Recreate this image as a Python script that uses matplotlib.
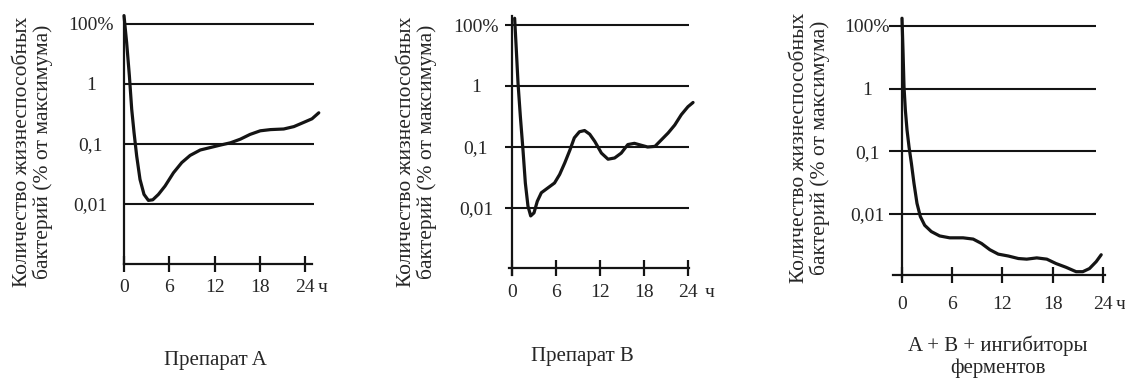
import matplotlib.pyplot as plt

plt.rcParams['font.family'] = ['Liberation Serif', 'DejaVu Serif']

## DATA
# vertical scale is drawn in equal steps: 3 = 100%, 2 = 1, 1 = 0,1, 0 = 0,01
levelTicks = [0, 1, 2, 3]
levelLabels = ["0,01", "0,1", "1", "100%"]
hourTicks = [0, 6, 12, 18, 24]
hourLabels = ["0", "6", "12", "18", "24"]

titles = ["Препарат A", "Препарат B", "A + B + ингибиторы\nферментов"]
yLabelText = "Количество жизнеспособных\nбактерий (% от максимума)"
hourUnit = "ч"

hoursA = [0, 0.35, 0.71, 1.02, 1.33, 1.68, 2.12, 2.65, 3.23, 3.81, 4.56, 5.44,
          6.55, 7.65, 8.76, 10.1, 11.4, 12.7, 14.1, 15.4, 16.7, 18.05, 19.4,
          21.15, 22.5, 23.8, 24.9, 25.8]
levelA = [3.14, 2.69, 2.14, 1.58, 1.19, 0.80, 0.41, 0.16, 0.06, 0.07, 0.16, 0.30,
          0.52, 0.69, 0.81, 0.90, 0.94, 0.98, 1.02, 1.08, 1.16, 1.22, 1.24,
          1.25, 1.29, 1.36, 1.42, 1.52]

hoursB = [0.36, 0.59, 0.82, 1.14, 1.5, 1.82, 2.18, 2.55, 3.0, 3.45, 4.0, 4.9,
          5.8, 6.5, 7.2, 7.9, 8.5, 9.2, 9.9, 10.6, 11.3, 12.2, 13.1, 14.0, 14.9,
          15.8, 16.7, 17.6, 18.5, 19.5, 20.4, 21.3, 22.2, 23.1, 24.0, 24.7]
levelB = [3.11, 2.59, 2.05, 1.5, 0.95, 0.41, 0.03, -0.13, -0.08, 0.11, 0.25, 0.33,
          0.41, 0.55, 0.74, 0.95, 1.15, 1.25, 1.27, 1.21, 1.09, 0.90, 0.80, 0.82, 0.90,
          1.04, 1.06, 1.03, 1.00, 1.01, 1.12, 1.23, 1.36, 1.53, 1.66, 1.73]

hoursC = [0, 0.12, 0.24, 0.4, 0.6, 0.84, 1.12, 1.43, 1.79, 2.19, 2.71, 3.5, 4.5,
          5.7, 7.3, 8.5, 9.5, 10.5, 11.5, 12.7, 13.9, 14.9, 16.1, 17.3, 18.4,
          19.6, 20.8, 21.6, 22.4, 23.2, 23.8]
levelC = [3.12, 2.61, 2.03, 1.66, 1.34, 1.07, 0.81, 0.49, 0.17, -0.04, -0.18, -0.28, -0.35,
          -0.38, -0.38, -0.40, -0.47, -0.57, -0.64, -0.67, -0.71, -0.72, -0.70, -0.72, -0.79,
          -0.85, -0.92, -0.92, -0.87, -0.76, -0.65]

curves = [(hoursA, levelA), (hoursB, levelB), (hoursC, levelC)]

## LAYOUT (pixels of the 1125x385 picture)
W, H = 1125, 385
# origin x, px per hour, y of level 0, px per level
frames = [(124, 7.55, 204, 60.0), (512, 7.33, 208, 61.0), (902, 8.37, 214, 62.7)]
gridSpan = [(0, 25.2), (-1.0, 24.2), (-1.5, 23.2)]
xAxisSpan = [(0, 24.9), (-0.4, 24.2), (-1.1, 24.2)]
xAxisLevel = [-1.0, -0.98, -0.97]
yAxisSpan = [(-1.0, 3.12), (-1.1, 3.15), (-1.0, 3.12)]
xLabelPad = [5, 6, 10]
yLabelPad = [24, 26, 25]
unitOffset = [17, 22, 18]
yTitlePos = [(33, 152), (417, 152), (810, 148)]
titlePos = [(215, 360), (582, 357), (998, 357)]

INK = "#141414"
TEXT = "#262626"
XLO, XHI, YLO, YHI = -2.5, 27, -1.4, 3.35

fig = plt.figure(figsize=(W / 100, H / 100), dpi=100)

for i, (hours, level) in enumerate(curves):
    ox, sx, oy, sy = frames[i]
    leftPx = ox + XLO * sx
    topPx = oy - YHI * sy
    botPx = oy - YLO * sy
    ax = fig.add_axes([leftPx / W, 1 - botPx / H, (XHI - XLO) * sx / W, (botPx - topPx) / H])
    ax.set_xlim(XLO, XHI)
    ax.set_ylim(YLO, YHI)
    ax.patch.set_visible(False)

    ax.hlines(levelTicks, gridSpan[i][0], gridSpan[i][1], color=INK, lw=1.5)
    ax.plot(hours, level, color=INK, lw=2.3, solid_capstyle='round', solid_joinstyle='round')

    for side in ["top", "right"]:
        ax.spines[side].set_visible(False)
    ax.spines["left"].set_position(("data", 0))
    ax.spines["left"].set_bounds(*yAxisSpan[i])
    ax.spines["bottom"].set_position(("data", xAxisLevel[i]))
    ax.spines["bottom"].set_bounds(*xAxisSpan[i])
    for side in ["left", "bottom"]:
        ax.spines[side].set_linewidth(1.6)
        ax.spines[side].set_color(INK)

    ax.set_xticks(hourTicks, hourLabels)
    ax.tick_params(axis="x", direction="inout", length=11, width=1.6, color=INK,
                   pad=xLabelPad[i], labelsize=14, labelcolor=TEXT)
    ax.set_yticks(levelTicks, levelLabels)
    ax.tick_params(axis="y", length=0, pad=yLabelPad[i], labelsize=14, labelcolor=TEXT)
    for lab in ax.get_yticklabels():
        lab.set_horizontalalignment("center")

    ax.annotate(hourUnit, xy=(24, xAxisLevel[i]), xytext=(unitOffset[i] * 0.72, -(xLabelPad[i] + 5.5)),
                textcoords="offset points", ha="center", va="top", fontsize=14, color=TEXT)

    fig.text(yTitlePos[i][0] / W, 1 - yTitlePos[i][1] / H, yLabelText, rotation=90,
             ha="center", va="center", multialignment="center", fontsize=15.5,
             color=TEXT, linespacing=1.05)
    fig.text(titlePos[i][0] / W, 1 - titlePos[i][1] / H, titles[i], ha="center", va="center",
             multialignment="center", fontsize=15, color=TEXT, linespacing=1.15)

fig.savefig("out.png", dpi=100)
